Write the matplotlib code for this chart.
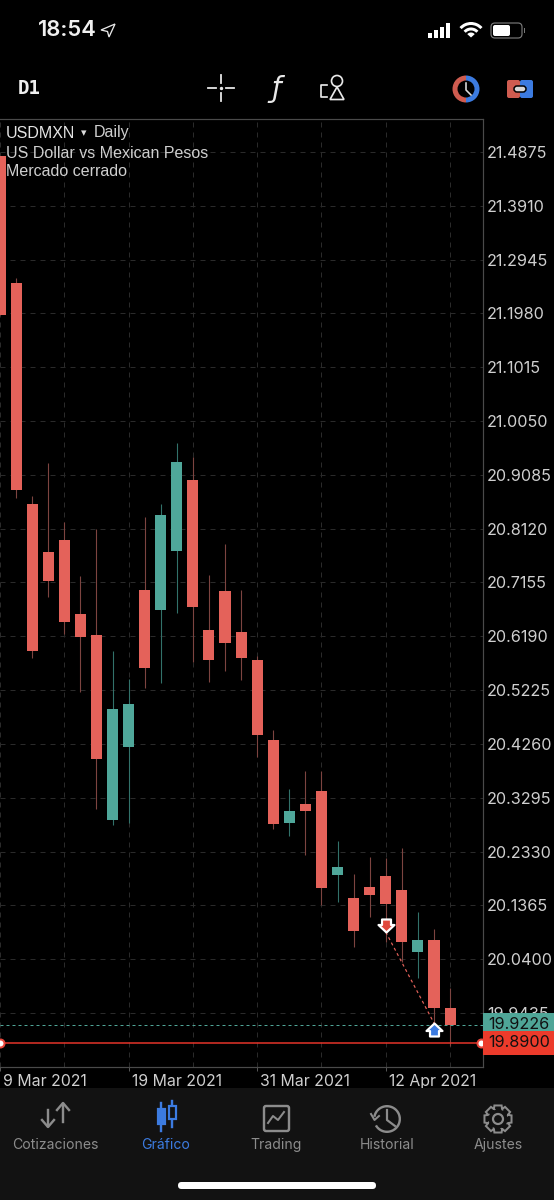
import numpy as np
import matplotlib
matplotlib.use("Agg")
import matplotlib.pyplot as plt
from matplotlib.patches import Rectangle, FancyBboxPatch, Circle, Wedge, Polygon
from matplotlib.path import Path
from matplotlib.transforms import ScaledTranslation

opens = [21.4803, 21.2526, 20.8568, 20.7696, 20.7911, 20.6584, 20.6218, 20.2895, 20.4204, 20.7025,
         20.6667, 20.7714, 20.8987, 20.6297, 20.6997, 20.6272, 20.5765, 20.4324, 20.2841, 20.3187,
         20.3415, 20.1909, 20.1491, 20.1694, 20.1885, 20.1634, 20.0522, 20.0738, 19.9518]
closes = [21.1952, 20.8813, 20.5931, 20.7187, 20.6451, 20.6172, 20.3984, 20.4880, 20.4981, 20.5626,
          20.8360, 20.9310, 20.6715, 20.5765, 20.6064, 20.5800, 20.4425, 20.2829, 20.3051, 20.3062,
          20.1676, 20.2052, 20.0910, 20.1550, 20.1394, 20.0702, 20.0738, 19.9518, 19.9226]
highs = [21.4803, 21.2615, 20.8711, 20.9298, 20.8245, 20.7271, 20.8114, 20.5931, 20.5424, 20.8324,
         20.8562, 20.9651, 20.9410, 20.7289, 20.7840, 20.7020, 20.5842, 20.4509, 20.3446, 20.3779,
         20.3774, 20.2518, 20.1921, 20.2237, 20.2208, 20.2387, 20.1251, 20.0940, 19.9877]
lows = [21.1952, 20.8670, 20.5800, 20.6900, 20.6231, 20.5196, 20.3087, 20.2800, 20.2847, 20.5257,
        20.5347, 20.6613, 20.5734, 20.5375, 20.5573, 20.5406, 20.4030, 20.2728, 20.2608, 20.2267,
        20.1371, 20.1419, 20.0612, 20.1161, 20.0713, 20.0354, 20.0056, 19.9254, 19.8842]

price_ticks = ["21.4875", "21.3910", "21.2945", "21.1980", "21.1015", "21.0050", "20.9085", "20.8120", "20.7155",
               "20.6190", "20.5225", "20.4260", "20.3295", "20.2330", "20.1365", "20.0400", "19.9435"]
date_ticks = [0, 8, 16, 24]
date_labels = ["9 Mar 2021", "19 Mar 2021", "31 Mar 2021", "12 Apr 2021"]
grid_only_ticks = [4, 12, 20, 28]
bid_price = 19.9226
line_price = 19.8900
sell_trade = (24, 20.0886)
buy_trade = (27, 19.9254)
nav_labels = ["Cotizaciones", "Gráfico", "Trading", "Historial", "Ajustes"]

RED = "#e4625a"
GREEN = "#4fa79a"
RED_WICK = "#7d4440"
GREEN_WICK = "#32726a"
BLUE = "#3c7be0"
GREY = "#8c8c8c"
NAV_BG = "#121212"
GRID = "#2a2a2a"
LABEL = "#cfcfcf"
PX = 0.72  # points per pixel at dpi 100

fig = plt.figure(figsize=(5.54, 12), dpi=100, facecolor="black")
ax = fig.add_axes([0, 1 - 1066.7 / 1200, 483 / 554, (1066.7 - 118.5) / 1200], facecolor="black")

x = np.arange(len(opens))
o = np.array(opens)
c = np.array(closes)
up = c >= o
ax.vlines(x, lows, highs, colors=[GREEN_WICK if u else RED_WICK for u in up], lw=1.1 * PX, zorder=2)
ax.bar(x, np.abs(c - o), bottom=np.minimum(o, c), width=0.69,
       color=[GREEN if u else RED for u in up], zorder=3)

ax.set_xlim(0, 30.05)
ax.set_ylim(19.8471, 21.5476)

# grid and axes
ax.set_xticks(date_ticks)
ax.set_xticklabels(date_labels)
ax.set_xticks(grid_only_ticks, minor=True)
ax.set_yticks([float(p) for p in price_ticks])
ax.set_yticklabels(price_ticks)
ax.yaxis.tick_right()
ax.grid(True, which="both", color=GRID, lw=1 * PX, ls=(0, (5, 5)), zorder=0)
ax.set_axisbelow(True)
ax.tick_params(axis="y", length=0, pad=4 * PX, labelsize=16.2 * PX, labelcolor=LABEL)
ax.tick_params(axis="x", which="major", length=3, width=1 * PX, color="#555555", pad=2, labelsize=15.8 * PX, labelcolor=LABEL)
ax.tick_params(axis="x", which="minor", length=0)
for lab in ax.get_xticklabels() + ax.get_yticklabels():
    lab.set_fontfamily("Inter")
offset = ScaledTranslation(3 / 100, 0, fig.dpi_scale_trans)
for lab in ax.get_xticklabels():
    lab.set_ha("left")
    lab.set_transform(lab.get_transform() + offset)
for s in ["top", "right", "bottom"]:
    ax.spines[s].set_color("#4a4a4a")
    ax.spines[s].set_linewidth(1.2 * PX)
ax.spines["left"].set_visible(False)

# bid line, closed line and trades
ax.axhline(bid_price, color="#4fa597", lw=1 * PX, ls=(0, (3, 3)), zorder=4)
ax.plot([0, 29.93], [line_price, line_price], color="#e8352a", lw=1.5 * PX, zorder=4, clip_on=False,
        marker="o", ms=8 * PX, mfc="white", mec="#e8453a", mew=2 * PX)
ax.plot([sell_trade[0], buy_trade[0]], [sell_trade[1], buy_trade[1]], color=RED, lw=1.2 * PX,
        ls=(0, (2.5, 2.5)), zorder=5)

down_arrow = Path([(0, 0), (-8, 7.5), (-4.5, 7.5), (-4.5, 13), (4.5, 13), (4.5, 7.5), (8, 7.5), (0, 0)], closed=True)
up_arrow = Path(down_arrow.vertices * [1, -1], closed=True)
ax.plot(*sell_trade, marker=down_arrow, ms=26 * PX, mfc="#e0483c", mec="white", mew=2.2 * PX, zorder=6, clip_on=False)
ax.plot(*buy_trade, marker=up_arrow, ms=26 * PX, mfc=BLUE, mec="white", mew=2.2 * PX, zorder=6, clip_on=False)

# price tags on the right
for price, fc in [(bid_price, "#4fa597"), (line_price, "#ec3b2b")]:
    ax.annotate(f"{price:.4f}", xy=(1, price), xycoords=ax.get_yaxis_transform(), xytext=(5, 0),
                textcoords="offset pixels", va="center", ha="left", fontsize=16.2 * PX, family="Inter",
                color="#111111", annotation_clip=False, zorder=10,
                bbox=dict(boxstyle="square,pad=0.28", fc=fc, ec=fc, lw=0))

# everything around the chart, in screen pixels
ui = fig.add_axes([0, 0, 1, 1], facecolor="none", zorder=20)
ui.set_xlim(0, 554)
ui.set_ylim(1200, 0)
ui.axis("off")

# header text on the chart
ui.text(6, 133, "USDMXN", color="#e4e4e4", fontsize=16 * PX, family="Liberation Sans", va="center")
ui.text(81, 133, "▾", color="#dcdcdc", fontsize=11 * PX, family="DejaVu Sans", va="center")
ui.text(94, 133, "Daily", color="#cfcfcf", fontsize=16 * PX, family="Liberation Sans", va="center")
ui.text(6, 153, "US Dollar vs Mexican Pesos", color="#cfcfcf", fontsize=16 * PX, family="Liberation Sans", va="center")
ui.text(6, 172, "Mercado cerrado", color="#cfcfcf", fontsize=16 * PX, family="Liberation Sans", va="center")

# status bar
ui.text(38, 30.5, "18:54", color="#f0f0f0", fontsize=22 * PX, family="Inter", fontweight="semibold", va="center")
ui.add_patch(Polygon([(101, 30), (115, 24), (109, 37), (107.5, 31.5)], closed=True, fc="none", ec="#e8e8e8", lw=1.3 * PX))
for bx, bh in zip([427.5, 433.5, 439.5, 445.5], [5, 8, 11, 15]):
    ui.add_patch(Rectangle((bx, 38 - bh), 4, bh, fc="white", ec="none"))
for r, w in [(15.5, 3), (10, 3), (5, 5)]:
    ui.add_patch(Wedge((471, 37.5), r, 222, 318, width=w, fc="white", ec="none"))
ui.add_patch(FancyBboxPatch((491, 23), 31, 15, boxstyle="round,pad=0,rounding_size=4", fc="none", ec="#777777", lw=1.2 * PX))
ui.add_patch(FancyBboxPatch((493, 25), 17, 11, boxstyle="round,pad=0,rounding_size=2", fc="white", ec="none"))
ui.add_patch(Rectangle((523.5, 28), 1.3, 5, fc="#777777", ec="none"))

# toolbar
ui.text(18, 88.5, "D1", color="#f0f0f0", fontsize=19 * PX, family="DejaVu Sans Mono", fontweight="bold", va="center")
for seg in [((208, 88), (216, 88)), ((226, 88), (234, 88)), ((221, 75), (221, 83)), ((221, 93), (221, 101))]:
    ui.plot(*zip(*seg), color="#e8e8e8", lw=1.8 * PX)
ui.plot([221], [88], marker="o", ms=2 * PX, color="#e8e8e8")
ui.text(276, 89, "ƒ", color="#e8e8e8", fontsize=28 * PX, family="DejaVu Sans", ha="center", va="center", style="italic")
ui.add_patch(Circle((337, 81), 5.5, fc="none", ec="#e8e8e8", lw=1.7 * PX))
ui.add_patch(Polygon([(337, 87), (344, 99.5), (330, 99.5)], closed=True, fc="none", ec="#e8e8e8", lw=1.7 * PX))
ui.plot([327, 321, 321, 327], [85, 85, 97, 97], color="#e8e8e8", lw=1.7 * PX)
ui.add_patch(Wedge((466, 89), 13.5, 90, 270, width=5, fc="#cf5c50", ec="none"))
ui.add_patch(Wedge((466, 89), 13.5, 270, 90, width=5, fc=BLUE, ec="none"))
ui.plot([466, 466, 471], [83, 90, 95], color="#dddddd", lw=1.6 * PX)
ui.add_patch(FancyBboxPatch((507, 80), 13, 18, boxstyle="round,pad=0,rounding_size=2", fc="#cf5c50", ec="none"))
ui.add_patch(FancyBboxPatch((520, 80), 13, 18, boxstyle="round,pad=0,rounding_size=2", fc=BLUE, ec="none"))
ui.add_patch(FancyBboxPatch((514, 86), 12, 6, boxstyle="round,pad=0,rounding_size=3", fc="#d8d8d8", ec="black", lw=1.5 * PX))

# bottom navigation
ui.add_patch(Rectangle((0, 1088), 554, 112, fc=NAV_BG, ec="none", zorder=0))
for label, nx, col in zip(nav_labels, [55, 166, 276.5, 387, 498], [GREY, BLUE, GREY, GREY, GREY]):
    ui.text(nx, 1149, label, color=col, fontsize=14 * PX, family="Inter", ha="center", va="baseline")

# quotes icon
ui.plot([48, 48], [1110, 1126], color=GREY, lw=2.4 * PX)
ui.plot([42, 48, 54], [1120, 1127, 1120], color=GREY, lw=2.4 * PX)
ui.plot([63, 63], [1104, 1122], color=GREY, lw=2.4 * PX)
ui.plot([57, 63, 69], [1110, 1103, 1110], color=GREY, lw=2.4 * PX)
# chart icon
for cx, top, bot, wt, wb, filled in [(161, 1109, 1124, 1103, 1131, True), (172, 1106, 1119, 1101, 1127, False)]:
    ui.plot([cx, cx], [wt, wb], color=BLUE, lw=2.4 * PX)
    ui.add_patch(Rectangle((cx - 3.5, top), 7, bot - top, fc=BLUE if filled else NAV_BG, ec=BLUE, lw=2.2 * PX, zorder=3))
# trading icon
ui.add_patch(FancyBboxPatch((264, 1106), 25, 25, boxstyle="round,pad=0,rounding_size=2", fc="none", ec=GREY, lw=2.4 * PX))
ui.plot([268, 273, 278, 284], [1123, 1116, 1120, 1112], color=GREY, lw=2 * PX)
# history icon
ui.add_patch(Wedge((387, 1119), 14, -170, 150, width=2.4, fc=GREY, ec="none"))
ui.plot([387, 387, 395], [1110, 1120, 1126], color=GREY, lw=2.2 * PX)
ui.plot([371, 374.5, 379], [1114, 1120, 1116], color=GREY, lw=2 * PX)
# settings icon
gear = []
for k in range(8):
    a = k * np.pi / 4
    for da, r in [(-0.26, 14), (0.26, 14), (0.4, 10.5), (0.78 - 0.4, 10.5)]:
        gear.append((498 + r * np.cos(a + da), 1119 + r * np.sin(a + da)))
ui.add_patch(Polygon(gear, closed=True, fc="none", ec=GREY, lw=2 * PX))
ui.add_patch(Circle((498, 1119), 5, fc="none", ec=GREY, lw=2.2 * PX))

# home indicator
ui.add_patch(FancyBboxPatch((178, 1182), 198, 7, boxstyle="round,pad=0,rounding_size=3.5", fc="white", ec="none"))

fig.savefig("out.png", dpi=100, facecolor="black")
